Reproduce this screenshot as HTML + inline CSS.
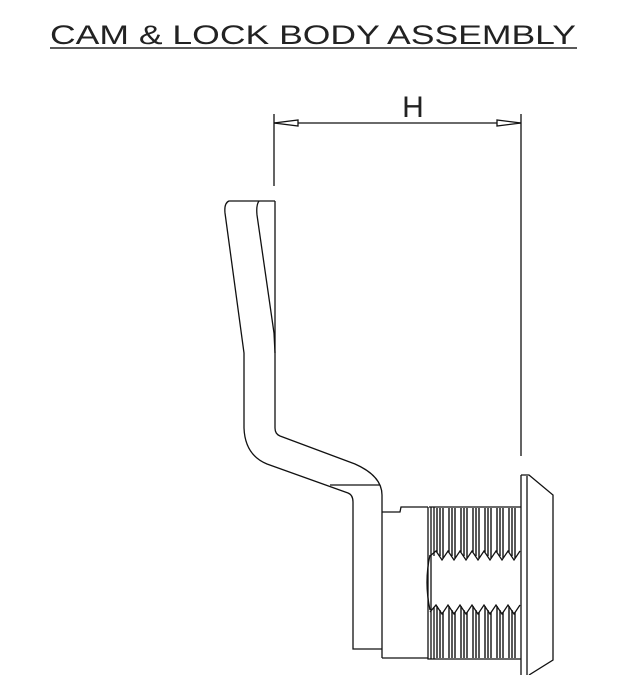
<!DOCTYPE html>
<html><head><style>
html,body{margin:0;padding:0;background:#fff;width:630px;height:675px;overflow:hidden}
</style></head><body>
<svg width="630" height="675" viewBox="0 0 630 675" xmlns="http://www.w3.org/2000/svg">
<text x="313" y="44" text-anchor="middle" font-family="Liberation Sans, sans-serif" font-size="27" textLength="526" lengthAdjust="spacingAndGlyphs" fill="#222">CAM &amp; LOCK BODY ASSEMBLY</text>
<line x1="50" y1="48" x2="577" y2="48" stroke="#222" stroke-width="1.5"/>
<text x="413" y="117" text-anchor="middle" font-family="Liberation Sans, sans-serif" font-size="30" fill="#222">H</text>
<g stroke="#111" fill="none" stroke-width="1.3">
<line x1="274" y1="114" x2="274" y2="186"/>
<line x1="521" y1="114" x2="521" y2="456"/>
<line x1="274" y1="123" x2="521" y2="123"/>
<polygon points="274,123 298,120 298,126" fill="#fff"/>
<polygon points="521,123 497,120 497,126" fill="#fff"/>
<path d="M275,201 L229,201 Q224,203 225,213 L244,353 L244,428 Q245,455 267,464 L348,493 Q353,495 353,502 L353,649 L382,649"/>
<path d="M259,201 Q256,205 257,215 L274,333 L275,353"/>
<path d="M275,201 L275,428 Q275,434 280,436 L355,464 Q382,476 382,495 L382,658"/>
<line x1="330" y1="485" x2="380" y2="485"/>
<path d="M382,512 L400,512 L401,507 L428,507"/>
<path d="M429,507 L521,507 M428,507 L428,659 L521,659 M382,658 L428,658"/>
<path d="M430,555 Q424,582 430,610"/>
<path d="M431,507 L431,659 M434,507 L434,556 M434,607 L434,659"/>
<path d="M430,556 L436,551 L442,560 L448,551 L454,560 L460,551 L466,560 L472,551 L478,560 L484,551 L490,560 L496,551 L502,560 L508,551 L514,560 L520,551"/>
<path d="M430,612 L436,605 L442,614 L448,605 L454,614 L460,605 L466,614 L472,605 L478,614 L484,605 L490,614 L496,605 L502,614 L508,605 L514,614 L520,605"/>
<g stroke-width="1.4">
<path d="M437,508 V552 M440,508 V556 M443,508 V558 M449,508 V552 M452,508 V556 M455,508 V558 M461,508 V552 M464,508 V556 M467,508 V558 M473,508 V552 M476,508 V556 M479,508 V558 M485,508 V552 M488,508 V556 M491,508 V558 M497,508 V552 M500,508 V556 M503,508 V558 M509,508 V552 M512,508 V556 M515,508 V558"/>
<path d="M437,606 V658 M440,610 V658 M443,612 V658 M449,606 V658 M452,610 V658 M455,612 V658 M461,606 V658 M464,610 V658 M467,612 V658 M473,606 V658 M476,610 V658 M479,612 V658 M485,606 V658 M488,610 V658 M491,612 V658 M497,606 V658 M500,610 V658 M503,612 V658 M509,606 V658 M512,610 V658 M515,612 V658"/>
</g>
<path d="M521,475 L529,475 L553,495 L553,660 L529,675 M521,475 L521,675 M527,476 L527,675"/>
</g>
</svg>
</body></html>
